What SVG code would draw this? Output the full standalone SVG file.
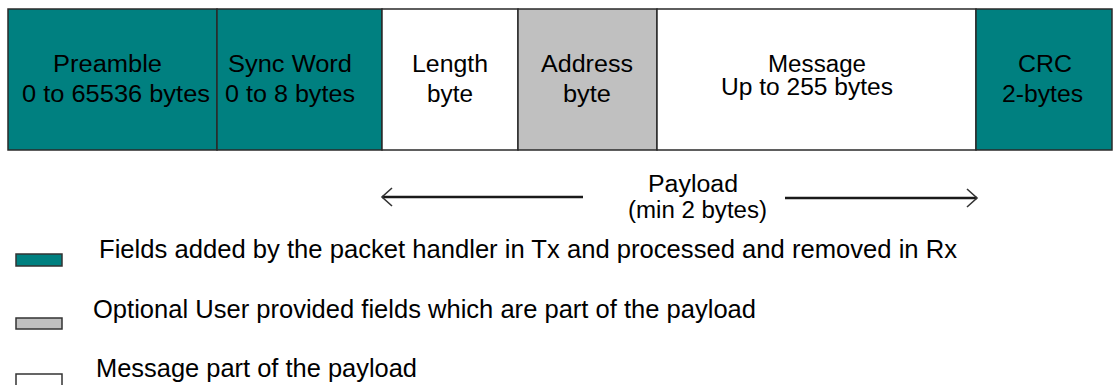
<svg xmlns="http://www.w3.org/2000/svg" width="1116" height="385" viewBox="0 0 1116 385">
  <style>
    .field { stroke: #2a2a2a; stroke-width: 1.5; }
    .handler { fill: #008080; }
    .optional { fill: #c0c0c0; }
    .message { fill: #ffffff; }
    .lbl { font-family: "Liberation Sans", Arial, sans-serif; font-size: 23px; fill: #000; }
    .legend { font-family: "Liberation Sans", Arial, sans-serif; font-size: 25px; fill: #000; }
    .arrow { stroke: #1a1a1a; stroke-width: 2.5; fill: none; }
    .swatch { stroke: #333; stroke-width: 1.5; }
  </style>
  <defs>
    <marker id="openHead" markerUnits="userSpaceOnUse" viewBox="-12 -11 14 22" refX="0" refY="0" markerWidth="14" markerHeight="22" orient="auto">
      <path d="M-10,-9 L0,0 L-10,9" fill="none" stroke="#333" stroke-width="1.6"/>
    </marker>
  </defs>

  <rect width="1116" height="385" fill="#ffffff"/>

  <!-- packet frame fields -->
  <g id="preamble">
    <rect class="field handler" x="8" y="9" width="209" height="141"/>
    <text class="lbl" x="53" y="72" textLength="109" lengthAdjust="spacingAndGlyphs">Preamble</text>
    <text class="lbl" x="22" y="102" textLength="188" lengthAdjust="spacingAndGlyphs">0 to 65536 bytes</text>
  </g>
  <g id="sync-word">
    <rect class="field handler" x="217" y="9" width="165" height="141"/>
    <text class="lbl" x="228" y="72" textLength="124" lengthAdjust="spacingAndGlyphs">Sync Word</text>
    <text class="lbl" x="225" y="102" textLength="130" lengthAdjust="spacingAndGlyphs">0 to 8 bytes</text>
  </g>
  <g id="length">
    <rect class="field message" x="382" y="9" width="136" height="141"/>
    <text class="lbl" x="412" y="72" textLength="76" lengthAdjust="spacingAndGlyphs">Length</text>
    <text class="lbl" x="427" y="102" textLength="46" lengthAdjust="spacingAndGlyphs">byte</text>
  </g>
  <g id="address">
    <rect class="field optional" x="518" y="9" width="139" height="141"/>
    <text class="lbl" x="541" y="72" textLength="92" lengthAdjust="spacingAndGlyphs">Address</text>
    <text class="lbl" x="563" y="102" textLength="48" lengthAdjust="spacingAndGlyphs">byte</text>
  </g>
  <g id="message">
    <rect class="field message" x="657" y="9" width="319" height="141"/>
    <text class="lbl" x="768" y="72" textLength="98" lengthAdjust="spacingAndGlyphs">Message</text>
    <text class="lbl" x="721" y="95" textLength="172" lengthAdjust="spacingAndGlyphs">Up to 255 bytes</text>
  </g>
  <g id="crc">
    <rect class="field handler" x="976" y="9" width="136" height="141"/>
    <text class="lbl" x="1018" y="72" textLength="54" lengthAdjust="spacingAndGlyphs">CRC</text>
    <text class="lbl" x="1002" y="102" textLength="81" lengthAdjust="spacingAndGlyphs">2-bytes</text>
  </g>

  <!-- payload span -->
  <g id="connectors">
    <line class="arrow" x1="583" y1="197" x2="382" y2="197" marker-end="url(#openHead)"/>
    <line class="arrow" x1="785" y1="198" x2="977" y2="198" marker-end="url(#openHead)"/>
  </g>
  <g id="payload-label">
    <text class="lbl" x="648" y="192" textLength="90" lengthAdjust="spacingAndGlyphs">Payload</text>
    <text class="lbl" x="628" y="218" textLength="139" lengthAdjust="spacingAndGlyphs">(min 2 bytes)</text>
  </g>

  <!-- legend -->
  <g id="legend-handler">
    <rect class="swatch handler" x="16" y="254" width="46" height="12"/>
    <text class="legend" x="99" y="258" textLength="858" lengthAdjust="spacingAndGlyphs">Fields added by the packet handler in Tx and processed and removed in Rx</text>
  </g>
  <g id="legend-optional">
    <rect class="swatch optional" x="16" y="318" width="46" height="11"/>
    <text class="legend" x="93" y="318" textLength="663" lengthAdjust="spacingAndGlyphs">Optional User provided fields which are part of the payload</text>
  </g>
  <g id="legend-message">
    <rect class="swatch message" x="16" y="374" width="46" height="12"/>
    <text class="legend" x="96" y="377" textLength="321" lengthAdjust="spacingAndGlyphs">Message part of the payload</text>
  </g>
</svg>
